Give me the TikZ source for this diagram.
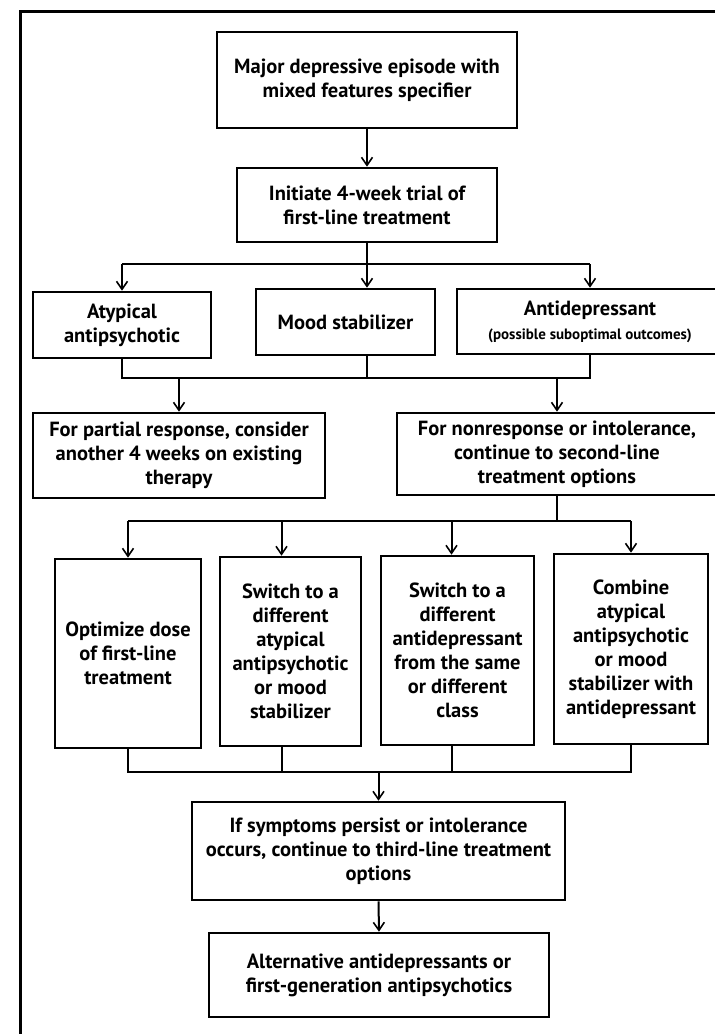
\documentclass[tikz,border=0pt]{standalone}
\usepackage{fontspec}
\setmainfont{PT Sans}
\usetikzlibrary{arrows.meta,positioning,calc}
\tikzset{
  caja/.style={
    rectangle, draw, line width=2.6pt, align=center, inner sep=1pt,
    font=\bfseries\fontsize{20.5}{24}\selectfont},
  flecha/.style={-{Straight Barb[length=8pt,width=11pt,line width=1.6pt]}, line width=2pt},
  linea/.style={line width=2pt},
  marco/.style={line width=3pt}
}

\begin{document}
\begin{tikzpicture}[x=1pt,y=-1pt]
\useasboundingbox (0,0) rectangle (715,1034);
\draw[marco] (20,11) rectangle (760,1080);

% primer nivel
\node[caja, minimum width=300pt, minimum height=96pt] (episodio) at (367,80)
  {Major depressive episode with\\mixed features specifier};
\node[caja, minimum width=260pt, minimum height=74pt] (inicio) at (367,205)
  {Initiate 4-week trial of\\first-line treatment};

% tratamientos de primera linea
\node[caja, minimum width=178pt, minimum height=66pt] (atipico) at (122,325)
  {Atypical\\antipsychotic};
\node[caja, minimum width=179pt, minimum height=66pt] (estab) at (345.5,322)
  {Mood stabilizer};
\node[caja, minimum width=266pt, minimum height=65pt] (antidep) at (590,321.5)
  {Antidepressant\\{\fontsize{15}{19}\selectfont (possible suboptimal outcomes)}};

% respuesta
\node[caja, minimum width=292pt, minimum height=85pt] (parcial) at (179,455.5)
  {For partial response, consider\\another 4 weeks on existing\\therapy};
\node[caja, minimum width=320pt, minimum height=82pt] (norespuesta) at (557,454)
  {For nonresponse or intolerance,\\continue to second-line\\treatment options};

% segunda linea
\node[caja, minimum width=146pt, minimum height=189pt] (optimizar) at (128,653.5)
  {Optimize dose\\of first-line\\treatment};
\node[caja, minimum width=141pt, minimum height=189pt] (cambioA) at (290.5,651.5)
  {Switch to a\\different\\atypical\\antipsychotic\\or mood\\stabilizer};
\node[caja, minimum width=153pt, minimum height=189pt] (cambioB) at (457.5,650.5)
  {Switch to a\\different\\antidepressant\\from the same\\or different\\class};
\node[caja, minimum width=154pt, minimum height=190pt] (combinar) at (631,649)
  {Combine\\atypical\\antipsychotic\\or mood\\stabilizer with\\antidepressant};

% tercera linea
\node[caja, minimum width=373pt, minimum height=98pt] (persiste) at (378.5,851)
  {If symptoms persist or intolerance\\occurs, continue to third-line treatment\\options};
\node[caja, minimum width=340pt, minimum height=84pt] (alternativa) at (379,975)
  {Alternative antidepressants or\\first-generation antipsychotics};

% episodio -> inicio
\draw[flecha] (episodio.south) -- (inicio.north);

% inicio -> tres tratamientos
\draw[linea] (inicio.south) -- ++(0,21) coordinate (div1);
\draw[linea] (div1 -| atipico.north) -- (div1 -| antidep.north);
\draw[flecha] (div1 -| atipico.north) -- (atipico.north);
\draw[flecha] (div1) -- (div1 |- estab.north);
\draw[flecha] (div1 -| antidep.north) -- (antidep.north);

% tres tratamientos -> respuesta
\draw[linea] (atipico.south) -- ++(0,19) coordinate (jun1) -- (jun1 -| antidep.south) -- (antidep.south);
\draw[linea] (inicio.south |- estab.south) -- (jun1 -| inicio.south);
\draw[flecha] (jun1 -| parcial.north) -- (parcial.north);
\draw[flecha] (jun1 -| norespuesta.north) -- (norespuesta.north);

% norespuesta -> segunda linea
\draw[linea] (norespuesta.south) -- ++(0,25) coordinate (div2);
\draw[linea] (div2 -| optimizar.north) -- (div2 -| combinar.north);
\draw[flecha] (div2 -| optimizar.north) -- (optimizar.north);
\draw[flecha] (div2 -| cambioA.north) ++(-9,0) -- ([xshift=-9pt]cambioA.north);
\draw[flecha] (div2 -| cambioB.north) ++(-6,0) -- ([xshift=-6pt]cambioB.north);
\draw[flecha] (div2 -| combinar.north) -- (combinar.north);

% segunda linea -> persiste
\draw[linea] (optimizar.south) -- ++(0,23) coordinate (jun2) -- (jun2 -| combinar.south) -- (combinar.south);
\draw[linea] ([xshift=-9pt]cambioA.south) -- ++(0,25);
\draw[linea] ([xshift=-6pt]cambioB.south) -- ++(0,26);
\draw[flecha] (jun2 -| persiste.north) -- (persiste.north);

% persiste -> alternativa
\draw[flecha] (persiste.south) -- (alternativa.north);

\end{tikzpicture}
\end{document}
